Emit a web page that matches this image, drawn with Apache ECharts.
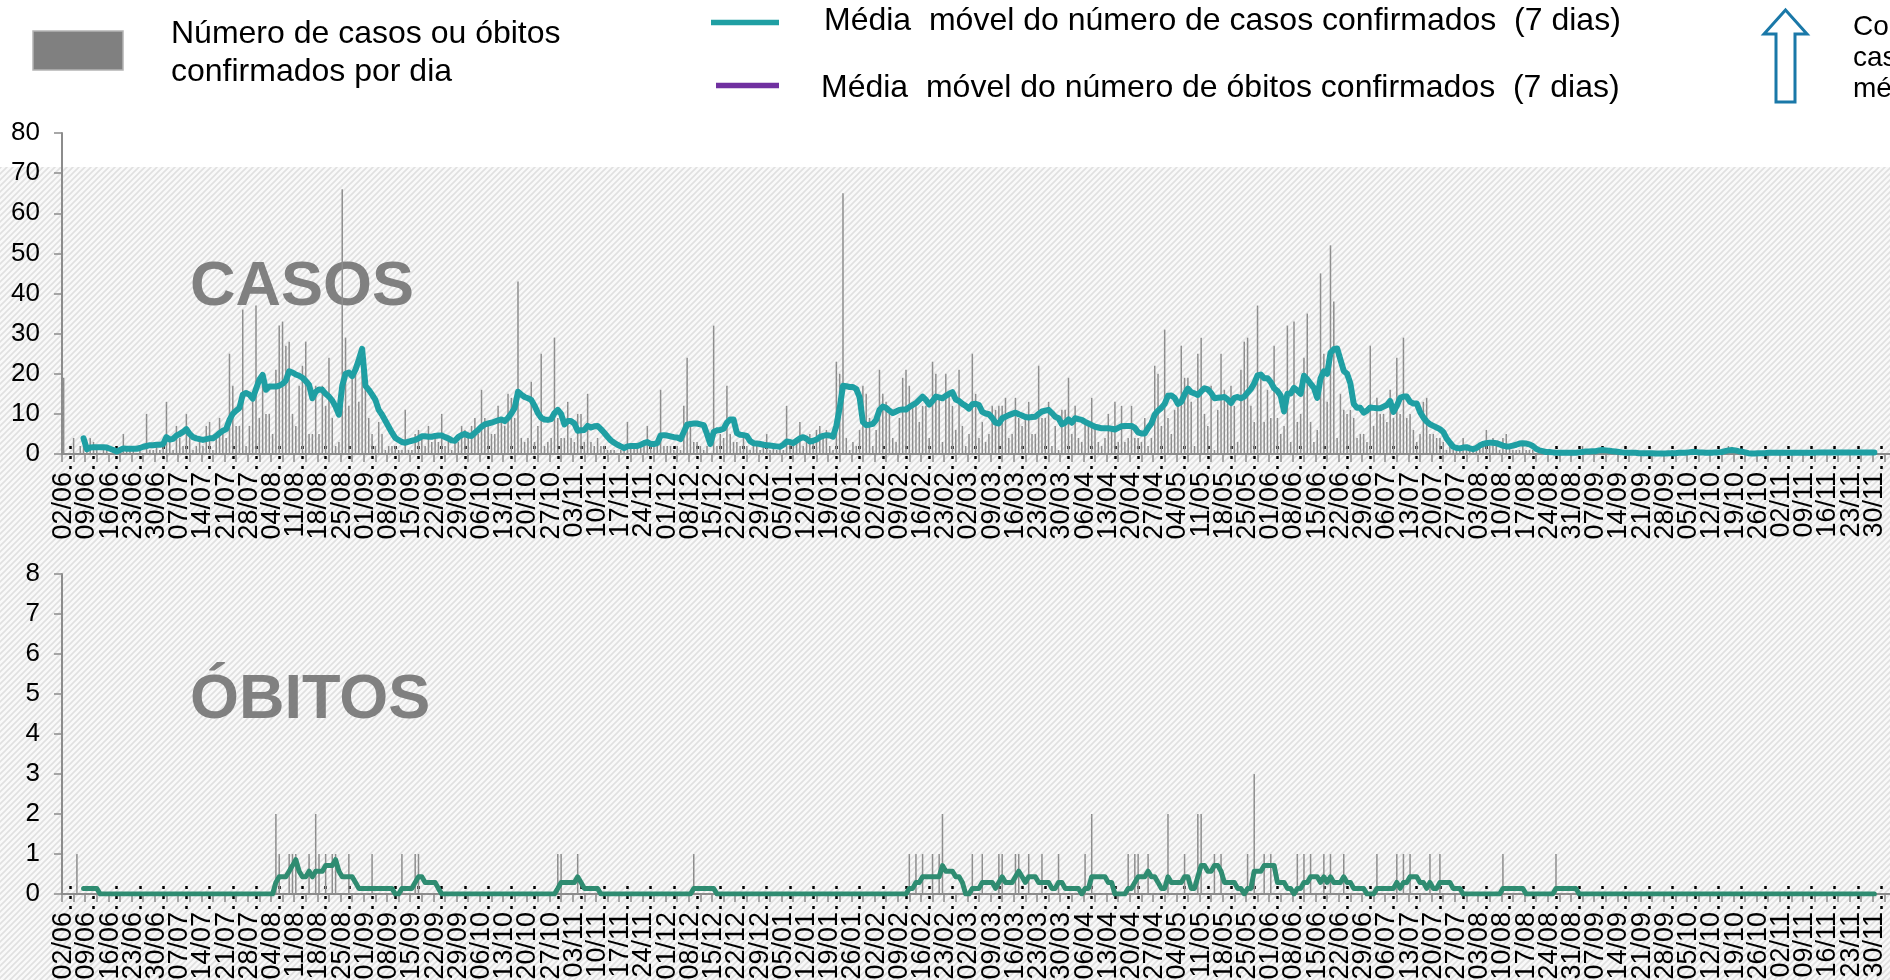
<!DOCTYPE html>
<html><head><meta charset="utf-8">
<script src="https://cdn.jsdelivr.net/npm/echarts@6/dist/echarts.min.js"></script>
<style>html,body{margin:0;padding:0;background:#fff;overflow:hidden}#chart{width:1890px;height:980px}</style>
</head><body><div id="chart"></div>
<script>
const FONT = "'Liberation Sans', Arial, Helvetica, sans-serif";

// ---------- DATA ----------
const startDate = [2020, 5, 2];     // 02/06/2020
const axisDays = 560;               // days shown on the axis (data ends on 30/11/2021)

const weekLabels = ['02/06','09/06','16/06','23/06','30/06','07/07','14/07','21/07','28/07','04/08','11/08','18/08','25/08','01/09','08/09','15/09','22/09','29/09','06/10','13/10','20/10','27/10','03/11','10/11','17/11','24/11','01/12','08/12','15/12','22/12','29/12','05/01','12/01','19/01','26/01','02/02','09/02','16/02','23/02','02/03','09/03','16/03','23/03','30/03','06/04','13/04','20/04','27/04','04/05','11/05','18/05','25/05','01/06','08/06','15/06','22/06','29/06','06/07','13/07','20/07','27/07','03/08','10/08','17/08','24/08','31/08','07/09','14/09','21/09','28/09','05/10','12/10','19/10','26/10','02/11','09/11','16/11','23/11','30/11'];

const casesTicks = [0,10,20,30,40,50,60,70,80];
const deathsTicks = [0,1,2,3,4,5,6,7,8];

// daily confirmed cases (one row per week)
const casesDaily = [
19,0,0,4,0,2,2,
1,4,3,1,0,2,1,
0,1,0,0,5,1,2,
1,0,2,0,10,1,1,
2,1,2,13,3,1,7,
4,2,10,5,1,2,3,
2,7,8,1,4,9,5,
4,25,17,7,7,36,2,
7,15,37,9,18,10,10,
5,21,32,33,27,28,10,
7,17,22,28,5,5,17,
5,17,12,24,9,2,3,
66,29,12,19,21,13,24,
17,9,5,2,8,5,1,
2,2,2,1,1,11,1,
1,5,6,5,2,7,3,
4,3,10,2,4,1,3,
3,7,6,4,7,9,5,
16,9,7,5,5,12,9,
7,15,14,9,43,4,3,
4,18,3,7,25,2,3,
4,29,9,4,4,13,4,
3,10,10,3,15,3,2,
4,2,2,1,1,1,0,
1,1,8,2,2,2,2,
2,7,2,2,3,16,2,
2,2,1,2,1,12,24,
7,3,3,2,1,2,0,
32,2,5,4,17,5,3,
3,2,4,2,1,2,2,
1,2,5,1,2,1,2,
1,12,3,2,3,8,2,
3,5,3,6,7,4,6,
2,1,23,20,65,4,1,
3,2,6,17,15,9,2,
6,21,15,13,10,4,3,
9,19,21,17,12,12,8,
12,12,4,23,20,14,3,
20,15,12,6,21,7,2,
5,25,15,4,8,3,5,
12,11,12,12,14,4,5,
14,9,7,9,13,5,5,
22,9,9,13,2,7,1,
11,11,19,5,12,4,3,
8,7,14,7,3,2,4,
10,6,13,3,12,3,4,
12,4,4,3,9,2,4,
22,20,7,31,9,5,11,
12,27,19,19,13,2,25,
29,10,7,17,1,11,25,
16,13,17,12,3,21,28,
29,12,8,37,19,8,16,
9,27,9,5,7,32,3,
33,8,10,24,35,8,3,
6,45,25,13,52,38,4,
15,11,10,11,9,4,5,
5,3,27,7,14,10,10,
8,16,9,24,10,29,9,
10,6,3,5,13,14,5,
5,4,4,3,1,2,1,
1,1,4,2,1,1,1,
2,3,6,2,4,2,1,
4,5,2,1,1,1,2,
1,1,1,0,0,0,0,
1,0,0,0,1,0,0,
0,0,0,2,0,0,1,
0,1,1,0,0,0,0,
0,0,1,0,0,0,0,
0,0,0,0,0,0,0,
0,0,1,0,0,0,0,
1,0,0,1,0,0,0,
0,0,0,0,1,2,1,
1,0,1,0,0,0,0,
0,0,0,1,0,0,0,
0,1,0,0,0,0,0,
0,0,0,1,0,0,0,
0,0,1,0,0,0,0,
0,0,0,1,0,0,0,
0
];

// 7-day moving average of cases
const casesMA = [
null,null,null,null,null,null,3.9,
1.2,1.6,1.7,1.7,1.7,1.7,1.6,
1.3,1.0,0.6,1.0,1.4,1.3,1.3,
1.3,1.3,1.5,1.8,2.0,2.2,2.2,
2.3,2.3,2.5,4.2,3.6,3.8,4.6,
5.0,5.5,6.2,5.0,4.2,3.9,3.7,
3.5,3.7,3.9,3.9,4.5,5.2,5.8,
6.2,8.5,10.0,10.8,11.5,14.8,15.2,
14.8,13.8,16.2,18.5,19.7,16.0,16.8,
16.8,16.8,17.0,17.5,18.3,20.6,20.3,
19.8,19.5,19.0,18.2,17.2,13.9,15.5,
16.1,16.0,15.0,14.3,13.3,11.8,9.8,
17.0,20.0,20.3,19.4,21.0,23.5,26.2,
17.0,16.0,14.8,13.5,11.0,9.8,8.3,
6.8,5.3,4.0,3.5,3.0,2.8,3.1,
3.3,3.5,3.9,4.4,4.4,4.3,4.3,
4.5,4.6,4.6,4.2,3.9,3.4,3.3,
4.2,4.7,5.0,4.6,4.5,5.3,6.0,
6.8,7.4,7.6,7.8,8.1,8.4,8.6,
8.2,9.0,10.1,11.5,15.5,14.8,14.2,
13.9,13.5,12.0,10.2,9.0,8.6,8.5,
8.7,10.2,11.0,10.0,7.4,8.2,8.2,
7.6,5.8,5.9,6.0,7.0,6.6,6.9,
7.0,6.2,5.3,4.3,3.4,2.8,2.3,
1.9,1.5,1.9,2.0,2.0,2.0,2.3,
2.7,3.0,2.5,2.5,2.7,4.6,4.7,
4.6,4.4,4.2,4.1,3.7,5.5,7.3,
7.5,7.6,7.6,7.4,7.2,5.0,2.5,
5.5,5.9,6.0,6.3,7.8,8.6,8.6,
5.2,4.8,4.7,4.5,3.2,2.7,2.6,
2.5,2.3,2.2,2.1,2.0,1.9,1.8,
2.3,3.1,3.0,2.7,3.3,3.9,4.2,
3.8,3.1,3.3,3.6,4.2,4.5,4.7,
4.6,4.3,7.0,11.5,17.0,16.9,16.7,
16.7,16.2,14.2,8.0,7.2,7.3,7.5,
8.5,11.0,11.8,11.5,10.8,10.2,10.6,
11.0,11.1,11.1,11.7,12.2,12.7,13.5,
14.3,13.5,12.3,13.2,14.3,14.1,13.9,
14.5,15.0,15.4,13.6,13.2,12.5,12.0,
11.3,12.4,12.5,12.2,10.5,10.1,9.9,
9.0,7.8,7.6,8.9,9.3,9.7,10.0,
10.3,9.9,9.6,9.2,9.1,9.2,9.3,
10.0,10.6,10.8,11.0,10.2,9.3,8.9,
7.4,7.8,8.6,7.8,8.9,8.7,8.5,
8.0,7.6,7.2,6.8,6.6,6.4,6.4,
6.4,6.3,6.1,6.5,6.9,7.0,7.0,
7.0,6.5,5.4,5.1,5.1,6.5,7.6,
9.8,10.8,11.5,12.5,14.5,14.6,14.0,
12.5,13.0,14.9,16.3,15.4,15.1,14.7,
15.6,16.4,16.1,15.2,13.9,14.0,14.1,
14.2,13.6,12.7,14.0,14.2,13.9,14.3,
15.3,16.2,17.6,19.6,19.8,18.9,18.9,
17.9,16.4,15.7,14.5,10.6,15.0,15.1,
16.5,15.8,15.0,19.5,18.6,17.5,16.5,
14.0,18.8,20.6,20.0,25.2,26.1,26.3,
23.5,20.7,20.0,17.6,12.5,11.5,11.5,
10.3,10.8,11.6,11.5,11.4,11.4,11.8,
12.2,13.2,10.5,12.0,14.0,14.3,14.3,
13.0,12.6,12.6,10.5,9.1,8.1,7.4,
7.0,6.6,6.2,5.5,3.9,2.8,1.8,
1.5,1.4,1.6,1.7,1.4,1.2,1.5,
2.1,2.5,2.7,2.8,2.8,2.7,2.4,
2.1,1.9,1.9,2.1,2.3,2.6,2.7,
2.6,2.4,2.0,1.3,0.9,0.7,0.5,
0.5,0.4,0.3,0.3,0.3,0.3,0.3,
0.3,0.3,0.4,0.5,0.6,0.6,0.7,
0.7,0.9,1.0,0.9,0.8,0.7,0.6,
0.5,0.4,0.3,0.3,0.3,0.3,0.2,
0.2,0.2,0.2,0.2,0.1,0.1,0.1,
0.1,0.2,0.2,0.2,0.3,0.3,0.3,
0.4,0.5,0.5,0.4,0.4,0.3,0.3,
0.3,0.4,0.4,0.5,0.7,0.9,1.0,
0.9,0.7,0.6,0.4,0.2,0.1,0.1,
0.2,0.2,0.2,0.3,0.3,0.3,0.3,
0.3,0.3,0.3,0.3,0.3,0.3,0.3,
0.3,0.3,0.3,0.3,0.4,0.4,0.4,
0.4,0.4,0.4,0.4,0.4,0.4,0.4,
0.4,0.4,0.4,0.4,0.4,0.4,0.4,
0.4
];

// daily confirmed deaths (one row per week)
const deathsDaily = [
0,0,0,0,1,0,0,
0,0,0,0,0,0,0,
0,0,0,0,0,0,0,
0,0,0,0,0,0,0,
0,0,0,0,0,0,0,
0,0,0,0,0,0,0,
0,0,0,0,0,0,0,
0,0,0,0,0,0,0,
0,0,0,0,0,0,0,
0,2,1,0,0,1,1,
1,0,0,0,1,0,2,
1,0,1,0,1,1,0,
0,0,1,0,0,0,0,
0,0,1,0,0,0,0,
0,0,0,0,1,0,0,
0,1,1,0,0,0,0,
0,0,0,0,0,0,0,
0,0,0,0,0,0,0,
0,0,0,0,0,0,0,
0,0,0,0,0,0,0,
0,0,0,0,0,0,0,
0,0,1,1,0,0,0,
0,1,0,0,0,0,0,
0,0,0,0,0,0,0,
0,0,0,0,0,0,0,
0,0,0,0,0,0,0,
0,0,0,0,0,0,0,
0,1,0,0,0,0,0,
0,0,0,0,0,0,0,
0,0,0,0,0,0,0,
0,0,0,0,0,0,0,
0,0,0,0,0,0,0,
0,0,0,0,0,0,0,
0,0,0,0,0,0,0,
0,0,0,0,0,0,0,
0,0,0,0,0,0,0,
0,0,0,1,0,1,0,
1,0,0,1,0,1,2,
0,0,0,0,0,0,0,
0,1,0,0,1,0,0,
0,0,1,1,0,0,0,
1,1,0,0,1,0,0,
0,1,0,0,0,0,1,
0,0,0,0,0,0,0,
1,0,2,0,0,0,0,
0,0,0,0,0,0,1,
0,1,1,0,0,1,0,
0,0,0,0,2,0,0,
0,0,1,0,0,0,2,
2,0,0,0,1,0,1,
0,0,0,0,0,0,0,
1,0,3,0,0,1,0,
1,0,0,0,0,0,0,
0,1,0,1,0,1,0,
0,0,1,0,1,0,0,
0,1,0,0,0,0,0,
0,0,0,0,1,0,0,
0,0,0,1,0,1,0,
1,0,0,0,0,0,1,
0,0,1,0,0,0,0,
0,0,0,0,0,0,0,
0,0,0,0,0,0,0,
1,0,0,0,0,0,0,
0,0,0,0,0,0,0,
0,0,1,0,0,0,0,
0,0,0,0,0,0,0,
0,0,0,0,0,0,0,
0,0,0,0,0,0,0,
0,0,0,0,0,0,0,
0,0,0,0,0,0,0,
0,0,0,0,0,0,0,
0,0,0,0,0,0,0,
0,0,0,0,0,0,0,
0,0,0,0,0,0,0,
0,0,0,0,0,0,0,
0,0,0,0,0,0,0,
0,0,0,0,0,0,0,
0,0,0,0,0,0,0,
0
];

// 7-day moving average of deaths
const deathsMA = [
null,null,null,null,null,null,0.14,
0.14,0.14,0.14,0.14,0,0,0,
0,0,0,0,0,0,0,
0,0,0,0,0,0,0,
0,0,0,0,0,0,0,
0,0,0,0,0,0,0,
0,0,0,0,0,0,0,
0,0,0,0,0,0,0,
0,0,0,0,0,0,0,
0,0.29,0.43,0.43,0.43,0.57,0.71,
0.86,0.57,0.43,0.43,0.57,0.43,0.57,
0.57,0.57,0.71,0.71,0.71,0.86,0.57,
0.43,0.43,0.43,0.43,0.29,0.14,0.14,
0.14,0.14,0.14,0.14,0.14,0.14,0.14,
0.14,0.14,0,0,0.14,0.14,0.14,
0.14,0.29,0.43,0.43,0.29,0.29,0.29,
0.29,0.14,0,0,0,0,0,
0,0,0,0,0,0,0,
0,0,0,0,0,0,0,
0,0,0,0,0,0,0,
0,0,0,0,0,0,0,
0,0,0.14,0.29,0.29,0.29,0.29,
0.29,0.43,0.29,0.14,0.14,0.14,0.14,
0.14,0,0,0,0,0,0,
0,0,0,0,0,0,0,
0,0,0,0,0,0,0,
0,0,0,0,0,0,0,
0,0.14,0.14,0.14,0.14,0.14,0.14,
0.14,0,0,0,0,0,0,
0,0,0,0,0,0,0,
0,0,0,0,0,0,0,
0,0,0,0,0,0,0,
0,0,0,0,0,0,0,
0,0,0,0,0,0,0,
0,0,0,0,0,0,0,
0,0,0,0,0,0,0,
0,0,0,0.14,0.14,0.29,0.29,
0.43,0.43,0.43,0.43,0.43,0.43,0.71,
0.57,0.57,0.57,0.43,0.43,0.29,0,
0,0.14,0.14,0.14,0.29,0.29,0.29,
0.29,0.14,0.29,0.43,0.29,0.29,0.29,
0.43,0.57,0.43,0.29,0.43,0.43,0.43,
0.29,0.29,0.29,0.29,0.14,0.14,0.29,
0.29,0.14,0.14,0.14,0.14,0.14,0,
0.14,0.14,0.43,0.43,0.43,0.43,0.43,
0.29,0.29,0,0,0,0,0.14,
0.14,0.29,0.43,0.43,0.43,0.57,0.43,
0.43,0.29,0.14,0.14,0.43,0.29,0.29,
0.29,0.29,0.43,0.43,0.14,0.14,0.43,
0.71,0.71,0.57,0.57,0.71,0.71,0.57,
0.29,0.29,0.29,0.29,0.14,0.14,0,
0.14,0.14,0.57,0.57,0.57,0.71,0.71,
0.71,0.71,0.29,0.29,0.29,0.14,0.14,
0,0.14,0.14,0.29,0.29,0.43,0.43,
0.43,0.29,0.43,0.29,0.43,0.29,0.29,
0.29,0.43,0.29,0.29,0.14,0.14,0.14,
0.14,0,0,0,0.14,0.14,0.14,
0.14,0.14,0.14,0.29,0.14,0.29,0.29,
0.43,0.43,0.43,0.29,0.29,0.14,0.29,
0.14,0.14,0.29,0.29,0.29,0.29,0.14,
0.14,0.14,0,0,0,0,0,
0,0,0,0,0,0,0,
0.14,0.14,0.14,0.14,0.14,0.14,0.14,
0,0,0,0,0,0,0,
0,0,0.14,0.14,0.14,0.14,0.14,
0.14,0.14,0,0,0,0,0,
0,0,0,0,0,0,0,
0,0,0,0,0,0,0,
0,0,0,0,0,0,0,
0,0,0,0,0,0,0,
0,0,0,0,0,0,0,
0,0,0,0,0,0,0,
0,0,0,0,0,0,0,
0,0,0,0,0,0,0,
0,0,0,0,0,0,0,
0,0,0,0,0,0,0,
0,0,0,0,0,0,0,
0,0,0,0,0,0,0,
0
];

// ---------- BUILD ----------
const categories = [];
for (let i = 0; i < axisDays; i++) {
  const d = new Date(Date.UTC(startDate[0], startDate[1], startDate[2] + i));
  categories.push(String(d.getUTCDate()).padStart(2,'0') + '/' + String(d.getUTCMonth()+1).padStart(2,'0') + '/' + d.getUTCFullYear());
}

const DAY_W = 3.3163;
const gridW = axisDays * DAY_W;

// hatch pattern
const pc = document.createElement('canvas');
pc.width = 6; pc.height = 6;
const pg = pc.getContext('2d');
pg.fillStyle = '#f9f9f9'; pg.fillRect(0,0,6,6);
pg.strokeStyle = '#e0e0e0'; pg.lineWidth = 1.6;
pg.beginPath();
pg.moveTo(0,6); pg.lineTo(6,0);
pg.moveTo(-1,1); pg.lineTo(1,-1);
pg.moveTo(5,7); pg.lineTo(7,5);
pg.stroke();

const GREY = '#8c8c8c';

// label-only category axis showing every other week (parity 0 or 1)
function labelAxis(g, parity) {
  return { type:'category', gridIndex:g, data:categories, boundaryGap:true, position:'bottom',
    axisLine:{show:false}, axisTick:{show:false}, splitLine:{show:false},
    axisLabel:{show:true,
      interval:(i)=> i % 7 === 0 && (i/7) % 2 === parity && i/7 < weekLabels.length,
      formatter:(v,i)=> weekLabels[i/7] || '', rotate:90, fontSize:27, fontFamily:FONT, color:'#000', margin:18,
      showMinLabel:true, showMaxLabel:true, hideOverlap:false} };
}
function xAxes(g) {
  return [
    { type:'category', gridIndex:g, data:categories, boundaryGap:true, position:'bottom',
      axisLine:{show:true, lineStyle:{color:GREY, width:2}},
      axisTick:{show:false}, axisLabel:{show:false}, splitLine:{show:false} },
    { type:'value', gridIndex:g, min:0, max:axisDays, interval:3.5, position:'bottom',
      axisLine:{show:false}, axisTick:{show:true, length:8, lineStyle:{color:GREY, width:1.5}},
      axisLabel:{show:false}, splitLine:{show:false} },
    { type:'category', gridIndex:g, data:categories, boundaryGap:true, position:'bottom', offset:-8,
      axisLine:{show:false}, axisLabel:{show:false},
      axisTick:{show:true, interval:(i)=> i % 7 === 2, alignWithLabel:true, length:23,
        lineStyle:{color:'#000', width:2.5, type:[3,7]}},
      splitLine:{show:false} },
    labelAxis(g, 0),
    labelAxis(g, 1)
  ];
}
function yAxis(g, ticks) {
  return { type:'value', gridIndex:g, min:ticks[0], max:ticks[ticks.length-1], interval:ticks[1]-ticks[0],
    axisLine:{show:true, lineStyle:{color:GREY, width:2}},
    axisTick:{show:true, length:8, lineStyle:{color:GREY, width:1.5}},
    axisLabel:{fontSize:26, color:'#000', fontFamily:FONT, margin:22},
    splitLine:{show:false} };
}

const legendText = (x, y, t, size) => ({ type:'text', z:5, silent:true,
  style:{ x, y, text:t, fill:'#000', font: (size||32) + 'px ' + FONT, align:'left', verticalAlign:'middle' } });

const chart = echarts.init(document.getElementById('chart'), null, {renderer:'canvas'});
chart.setOption({
  animation:false,
  backgroundColor:'#ffffff',
  grid:[
    {left:62, top:133, width:gridW, height:321, containLabel:false, outerBoundsMode:'none'},
    {left:62, top:574, width:gridW, height:320, containLabel:false, outerBoundsMode:'none'}
  ],
  xAxis:[...xAxes(0), ...xAxes(1)],
  yAxis:[yAxis(0, casesTicks), yAxis(1, deathsTicks)],
  series:[
    {type:'bar', name:'Casos', xAxisIndex:0, yAxisIndex:0, data:casesDaily, barWidth:1.5,
      itemStyle:{color:'#8e8e8e'}, silent:true, z:2},
    {type:'line', name:'MM casos', xAxisIndex:0, yAxisIndex:0, data:casesMA, showSymbol:false, symbol:'none',
      lineStyle:{color:'#1f9fa3', width:6, join:'round', cap:'round'}, silent:true, z:3},
    {type:'bar', name:'Óbitos', xAxisIndex:5, yAxisIndex:1, data:deathsDaily, barWidth:1.5,
      itemStyle:{color:'#8e8e8e'}, silent:true, z:2},
    {type:'line', name:'MM óbitos', xAxisIndex:5, yAxisIndex:1, data:deathsMA, showSymbol:false, symbol:'none',
      lineStyle:{color:'#2f8c71', width:5, join:'round', cap:'round'}, silent:true, z:3}
  ],
  graphic:{ elements:[
    { type:'rect', z:-10, silent:true, shape:{x:0, y:167, width:1890, height:813},
      style:{ fill:{image:pc, repeat:'repeat'} } },
    { type:'text', z:1, silent:true, style:{ x:190, y:288, text:'CASOS', fill:'#808080',
      font:'bold 63px ' + FONT, align:'left', verticalAlign:'middle' } },
    { type:'text', z:1, silent:true, style:{ x:190, y:701, text:'ÓBITOS', fill:'#808080',
      font:'bold 63px ' + FONT, align:'left', verticalAlign:'middle' } },
    { type:'rect', z:5, silent:true, shape:{x:33, y:31, width:90, height:39},
      style:{ fill:'#808080', stroke:'#b4b4b4', lineWidth:1.5 } },
    legendText(171, 34, 'Número de casos ou óbitos'),
    legendText(171, 72, 'confirmados por dia'),
    { type:'line', z:5, silent:true, shape:{x1:711, y1:22.5, x2:779, y2:22.5},
      style:{ stroke:'#1f9fa3', lineWidth:5.5 } },
    legendText(824, 21, 'Média  móvel do número de casos confirmados  (7 dias)'),
    { type:'line', z:5, silent:true, shape:{x1:716, y1:85.5, x2:779, y2:85.5},
      style:{ stroke:'#7030a0', lineWidth:5.5 } },
    legendText(821, 88, 'Média  móvel do número de óbitos confirmados  (7 dias)'),
    { type:'polygon', z:5, silent:true,
      shape:{ points:[[1785.5,10],[1807,34],[1795,34],[1795,102],[1776,102],[1776,34],[1764,34]] },
      style:{ fill:'#ffffff', stroke:'#1a78a8', lineWidth:3 } },
    legendText(1853, 27, 'Con', 28),
    legendText(1853, 58, 'casos', 28),
    legendText(1853, 89, 'média', 28)
  ]}
});
</script>
</body></html>
